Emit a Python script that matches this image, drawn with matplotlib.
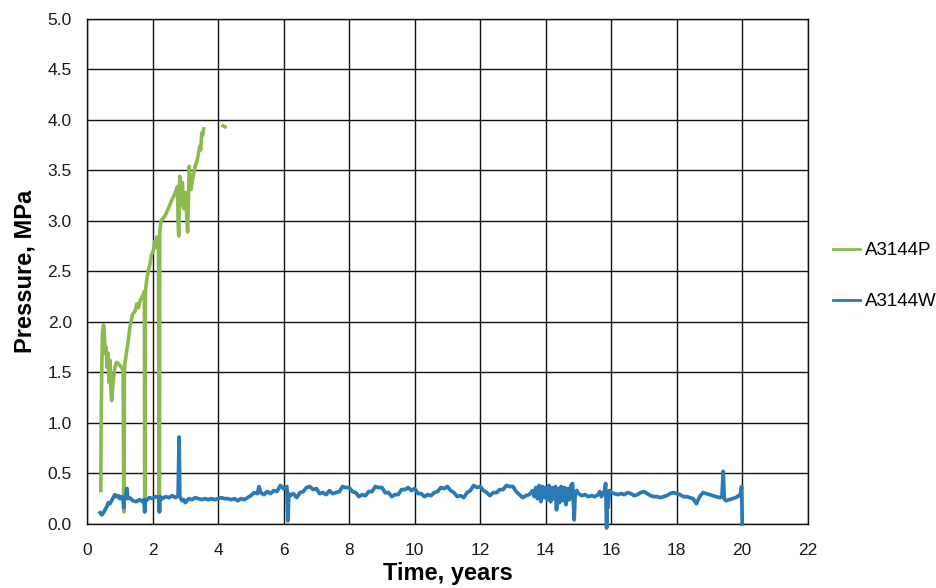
import numpy as np
import matplotlib
matplotlib.use("Agg")
import matplotlib.pyplot as plt

plt.rcParams['font.family'] = ['Liberation Sans', 'DejaVu Sans']

# ---- A3144P: gas pressure record (years, MPa); NaN separates the late isolated reading
green_years = [0.42, 0.43, 0.45, 0.47, 0.50, 0.52, 0.55, 0.58, 0.61, 0.64, 0.67, 0.70, 0.72,
               0.75, 0.80, 0.85, 0.90, 0.98, 1.05, 1.10, 1.12, 1.13, 1.14, 1.17, 1.26, 1.31,
               1.39, 1.46, 1.52, 1.57, 1.62, 1.70, 1.75, 1.76, 1.77, 1.78, 1.82, 1.87, 1.92,
               1.97, 2.02, 2.07, 2.10, 2.13, 2.18, 2.20, 2.21, 2.22, 2.26, 2.38, 2.48, 2.58,
               2.68, 2.76, 2.78, 2.80, 2.83, 2.85, 2.91, 2.95, 3.00, 3.07, 3.12, 3.17, 3.22,
               3.30, 3.37, 3.44, 3.47, 3.50, 3.53, 3.56, np.nan, 4.15, 4.21]
green_mpa = [0.33, 1.00, 1.55, 1.88, 1.97, 1.95, 1.69, 1.75, 1.55, 1.69, 1.40, 1.62, 1.39,
             1.22, 1.42, 1.55, 1.60, 1.58, 1.55, 1.52, 0.12, 0.12, 1.55, 1.62, 1.82, 1.95,
             2.08, 2.10, 2.18, 2.14, 2.21, 2.26, 2.30, 0.12, 0.12, 2.30, 2.41, 2.51, 2.57,
             2.67, 2.70, 2.80, 2.74, 2.84, 2.84, 0.12, 0.12, 2.90, 3.00, 3.05, 3.12, 3.20,
             3.27, 3.34, 2.98, 2.85, 3.44, 3.15, 3.38, 3.12, 3.28, 2.89, 3.54, 3.31, 3.41,
             3.54, 3.61, 3.74, 3.70, 3.87, 3.85, 3.91, np.nan, 3.94, 3.93]

# ---- A3144W: water pressure record (years, MPa), four stretches
blue_years_1 = [0.40, 0.45, 0.50, 0.55, 0.60, 0.65, 0.70, 0.75, 0.80, 0.85,
                0.90, 0.95, 1.00, 1.05, 1.10, 1.12, 1.14, 1.18, 1.22, 1.24,
                1.30, 1.40, 1.50, 1.60, 1.70, 1.74, 1.76, 1.78, 1.80, 1.90,
                2.00, 2.10, 2.19, 2.21, 2.23, 2.30, 2.40, 2.50, 2.60, 2.70,
                2.78, 2.81, 2.83, 2.90, 2.95, 3.00, 3.10, 3.20, 3.30, 3.40,
                3.50, 3.60, 3.70, 3.80, 3.90, 4.00, 4.10, 4.20, 4.30, 4.40,
                4.50, 4.60, 4.70, 4.80, 4.90]
blue_mpa_1 = [0.11, 0.09, 0.11, 0.14, 0.17, 0.21, 0.20, 0.23, 0.26, 0.29,
              0.27, 0.28, 0.25, 0.27, 0.25, 0.16, 0.26, 0.28, 0.35, 0.25,
              0.26, 0.23, 0.22, 0.24, 0.22, 0.24, 0.12, 0.24, 0.23, 0.26,
              0.25, 0.27, 0.26, 0.12, 0.27, 0.25, 0.27, 0.26, 0.28, 0.26,
              0.28, 0.86, 0.27, 0.23, 0.24, 0.21, 0.25, 0.24, 0.26, 0.25,
              0.24, 0.25, 0.24, 0.25, 0.24, 0.25, 0.26, 0.25, 0.25, 0.24,
              0.25, 0.23, 0.25, 0.24, 0.26]

blue_years_2 = [5.0, 5.1, 5.2, 5.25, 5.3, 5.4, 5.5, 5.6, 5.7, 5.8,
                5.9, 6.0, 6.1, 6.13, 6.16, 6.2, 6.3, 6.4, 6.5, 6.6,
                6.7, 6.8, 6.9, 7.0, 7.1, 7.2, 7.3, 7.4, 7.5, 7.6,
                7.7, 7.8, 7.9, 8.0, 8.1, 8.2, 8.3, 8.4, 8.5, 8.6,
                8.7, 8.8, 8.9, 9.0, 9.1, 9.2, 9.3, 9.4, 9.5, 9.6,
                9.7, 9.8, 9.9, 10.0, 10.1, 10.2, 10.3, 10.4, 10.5, 10.6,
                10.7, 10.8, 10.9, 11.0, 11.1, 11.2, 11.3, 11.4, 11.5, 11.6,
                11.7, 11.8, 11.9, 12.0, 12.1, 12.2, 12.3, 12.4, 12.5, 12.6,
                12.7, 12.8, 12.9, 13.0, 13.1, 13.2, 13.3, 13.4, 13.5, 13.6]
blue_mpa_2 = [0.28, 0.31, 0.30, 0.37, 0.31, 0.29, 0.32, 0.30, 0.33, 0.32,
              0.38, 0.35, 0.37, 0.03, 0.30, 0.28, 0.30, 0.26, 0.31, 0.32,
              0.36, 0.37, 0.34, 0.35, 0.30, 0.31, 0.29, 0.33, 0.30, 0.31,
              0.32, 0.37, 0.36, 0.36, 0.32, 0.31, 0.27, 0.29, 0.28, 0.32,
              0.32, 0.37, 0.36, 0.36, 0.31, 0.31, 0.27, 0.29, 0.29, 0.34,
              0.34, 0.36, 0.33, 0.35, 0.30, 0.30, 0.27, 0.29, 0.28, 0.31,
              0.32, 0.36, 0.35, 0.37, 0.33, 0.31, 0.27, 0.28, 0.26, 0.31,
              0.33, 0.38, 0.36, 0.37, 0.33, 0.31, 0.28, 0.31, 0.31, 0.34,
              0.34, 0.38, 0.37, 0.37, 0.32, 0.29, 0.26, 0.28, 0.29, 0.33]

blue_years_3 = [13.65, 13.70, 13.75, 13.80, 13.85, 13.90, 13.95, 14.00, 14.05, 14.10,
                14.15, 14.20, 14.25, 14.30, 14.33, 14.37, 14.42, 14.47, 14.52, 14.57,
                14.62, 14.67, 14.72, 14.77, 14.82, 14.87, 14.90, 14.95, 15.00]
blue_mpa_3 = [0.27, 0.36, 0.25, 0.38, 0.22, 0.37, 0.26, 0.36, 0.24, 0.38,
              0.22, 0.36, 0.25, 0.37, 0.14, 0.35, 0.21, 0.37, 0.23, 0.36,
              0.19, 0.35, 0.24, 0.38, 0.40, 0.04, 0.30, 0.33, 0.30]

blue_years_4 = [15.10, 15.20, 15.30, 15.40, 15.50, 15.60, 15.65, 15.70, 15.75, 15.80,
                15.83, 15.86, 15.88, 15.90, 15.95, 16.00, 16.10, 16.20, 16.30, 16.40,
                16.50, 16.60, 16.70, 16.80, 16.90, 17.00, 17.10, 17.20, 17.30, 17.40,
                17.50, 17.60, 17.70, 17.80, 17.90, 18.00, 18.10, 18.20, 18.30, 18.40,
                18.50, 18.60, 18.70, 18.80, 18.90, 19.00, 19.10, 19.20, 19.30, 19.38,
                19.42, 19.45, 19.50, 19.60, 19.70, 19.80, 19.90, 19.95, 19.98, 20.00]
blue_mpa_4 = [0.28, 0.29, 0.27, 0.28, 0.27, 0.29, 0.32, 0.27, 0.30, 0.33,
              0.40, -0.04, 0.30, 0.16, 0.33, 0.31, 0.30, 0.29, 0.30, 0.29,
              0.31, 0.30, 0.28, 0.29, 0.31, 0.32, 0.30, 0.28, 0.27, 0.27,
              0.26, 0.27, 0.28, 0.30, 0.31, 0.30, 0.29, 0.27, 0.27, 0.26,
              0.25, 0.20, 0.27, 0.31, 0.30, 0.29, 0.28, 0.27, 0.26, 0.27,
              0.52, 0.25, 0.23, 0.24, 0.25, 0.26, 0.28, 0.30, 0.37, 0.00]

blue_years = blue_years_1 + blue_years_2 + blue_years_3 + blue_years_4
blue_mpa = blue_mpa_1 + blue_mpa_2 + blue_mpa_3 + blue_mpa_4

series_names = ["A3144P", "A3144W"]
x_ticks = list(range(0, 23, 2))
y_ticks = [0.0, 0.5, 1.0, 1.5, 2.0, 2.5, 3.0, 3.5, 4.0, 4.5, 5.0]

GREEN = "#8CBA4F"
BLUE = "#2A7AB5"

fig = plt.figure(figsize=(9.36, 5.88), dpi=100)
ax = fig.add_axes([0.093, 0.109, 0.770, 0.859])

ax.plot(green_years, green_mpa, color=GREEN, lw=2.6, label=series_names[0],
        solid_joinstyle="round", zorder=3)
ax.plot(blue_years, blue_mpa, color=BLUE, lw=2.7, label=series_names[1],
        solid_joinstyle="round", zorder=4, clip_on=False)

ax.set_xlim(0, 22)
ax.set_ylim(0, 5)
ax.set_xticks(x_ticks)
ax.set_yticks(y_ticks)
ax.set_yticklabels([f"{v:.1f}" for v in y_ticks])
ax.tick_params(axis="both", length=0, labelsize=12.5, colors="#1a1a1a")
ax.tick_params(axis="y", pad=11)
ax.tick_params(axis="x", pad=13.5)
ax.grid(True, color="#111111", lw=1.0)
ax.set_axisbelow(True)
for s in ax.spines.values():
    s.set_color("#111111")
    s.set_linewidth(1.0)

ax.set_xlabel("Time, years", fontsize=17, fontweight="bold", labelpad=3)
ax.set_ylabel("Pressure, MPa", fontsize=17, fontweight="bold", labelpad=8)

leg = fig.legend(loc="upper left", bbox_to_anchor=(0.872, 0.617), frameon=False,
                 fontsize=13.5, handlelength=1.45, handletextpad=0.25, labelspacing=1.8)
for line in leg.get_lines():
    line.set_linewidth(2.0)

fig.savefig("out.png", dpi=100)
